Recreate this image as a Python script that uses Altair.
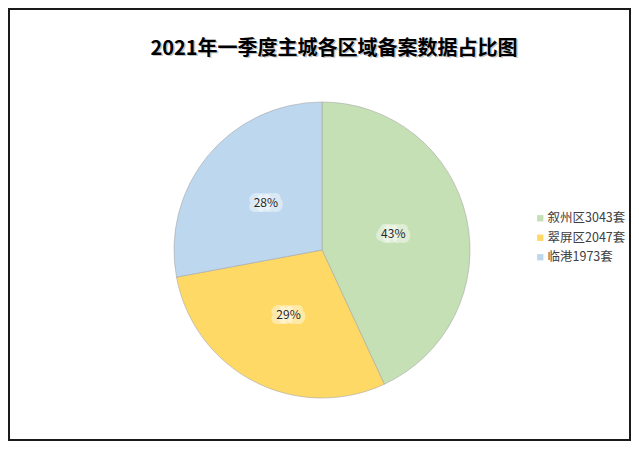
import altair as alt
import pandas as pd

names = ["叙州区3043套", "翠屏区2047套", "临港1973套"]
counts = [3043, 2047, 1973]
pct_labels = ["43%", "29%", "28%"]
order = [0, 1, 2]
colors = ["#C5E0B4", "#FFD966", "#BDD7EE"]
title_text = "2021年一季度主城各区域备案数据占比图"

df = pd.DataFrame({"name": names, "count": counts, "label": pct_labels, "order": order})
title_df = pd.DataFrame({"t": [title_text]})

W = 296
H = 296

color = alt.Color("name:N", scale=alt.Scale(domain=names, range=colors),
                  sort=names,
                  legend=alt.Legend(title=None, orient="none", legendX=360, legendY=110,
                                    symbolType="square", symbolSize=40, symbolStrokeWidth=0,
                                    labelFont="Noto Sans CJK SC", labelFontSize=12.5,
                                    labelColor="#404040", rowPadding=6.5, labelOffset=1,
                                    labelLimit=200))

base = alt.Chart(df).encode(
    theta=alt.Theta("count:Q", stack=True),
    order=alt.Order("order:Q"),
)

pie = base.mark_arc(outerRadius=148, stroke="#a8a8a8", strokeWidth=0.6).encode(color=color)

halo = base.mark_text(radius=73, font="Noto Sans CJK SC", fontSize=12, stroke="white",
                      strokeWidth=10, strokeOpacity=0.45, strokeJoin="round",
                      fill="white", fillOpacity=0.45).encode(text="label:N")
labels = base.mark_text(radius=73, font="Noto Sans CJK SC", fontSize=12,
                        color="#262626").encode(text="label:N")

title_shadow = alt.Chart(title_df).mark_text(
    font="Noto Sans CJK SC", fontSize=20, fontWeight="bold", color="#808080", opacity=0.45
).encode(text="t:N", x=alt.value(161.5), y=alt.value(-52))
title = alt.Chart(title_df).mark_text(
    font="Noto Sans CJK SC", fontSize=20, fontWeight="bold", color="#000000"
).encode(text="t:N", x=alt.value(160), y=alt.value(-53.5))

border_df = pd.DataFrame({"a": [0]})
border = alt.Chart(border_df).mark_rect(fill=None, stroke="#1a1a1a", strokeWidth=2).encode(
    x=alt.value(-165), x2=alt.value(456), y=alt.value(-93), y2=alt.value(338)
)

chart = alt.layer(border, title_shadow, title, pie, halo, labels).properties(
    width=W, height=H,
    padding={"left": 166, "right": 161, "top": 94, "bottom": 43},
    autosize=alt.AutoSizeParams(type="none"),
    view=alt.ViewBackground(strokeOpacity=0, strokeWidth=0),
).configure_view(strokeWidth=0, strokeOpacity=0).configure(background="white")

chart.save("out.html", embed_options={"renderer": "svg", "actions": False})
